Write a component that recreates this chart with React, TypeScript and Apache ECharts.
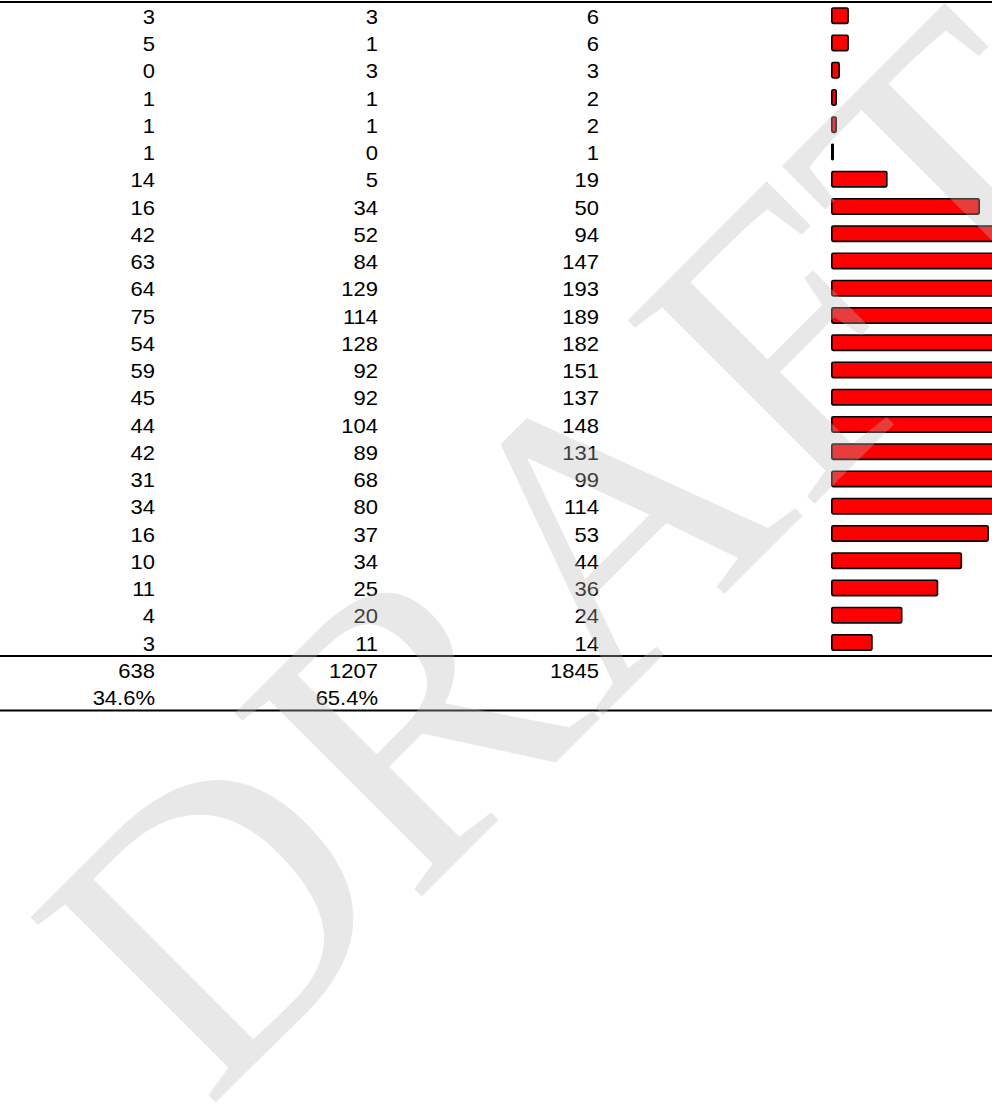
import React, { useEffect, useRef } from "react";
import * as echarts from "echarts";

// ---- data ----
const rowKeys = [
  "r1", "r2", "r3", "r4", "r5", "r6", "r7", "r8", "r9", "r10", "r11", "r12",
  "r13", "r14", "r15", "r16", "r17", "r18", "r19", "r20", "r21", "r22", "r23", "r24",
  "total", "share",
];
const colA = [3, 5, 0, 1, 1, 1, 14, 16, 42, 63, 64, 75, 54, 59, 45, 44, 42, 31, 34, 16, 10, 11, 4, 3];
const colB = [3, 1, 3, 1, 1, 0, 5, 34, 52, 84, 129, 114, 128, 92, 92, 104, 89, 68, 80, 37, 34, 25, 20, 11];
const colTotal = [6, 6, 3, 2, 2, 1, 19, 50, 94, 147, 193, 189, 182, 151, 137, 148, 131, 99, 114, 53, 44, 36, 24, 14];
const totalsRow = ["638", "1207", "1845"];
const shareRow = ["34.6%", "65.4%", ""];
const watermarkText = "DRAFT";

// ---- layout ----
const CHART_W = 1440;
const CHART_H = 1108;
const TABLE_TOP = 2;
const ROW_H = 27.25;
const TABLE_H = ROW_H * rowKeys.length;
const COL_RIGHT = [155, 378, 599];
const BAR_LEFT = 831;
const BAR_MAX = 200;
const BAR_GRID_W = 596;

function cellText(row: number, col: number): string {
  if (row < colA.length) {
    return String([colA, colB, colTotal][col][row]);
  }
  if (row === colA.length) return totalsRow[col];
  return shareRow[col];
}

export default function App() {
  const ref = useRef<HTMLDivElement>(null);
  useEffect(() => {
    if (!ref.current) return;
    const chart = echarts.init(ref.current, undefined, { renderer: "svg" });
    const numFont = '"Liberation Sans", Arial, Helvetica, sans-serif';

    const option: any = {
      animation: false,
      grid: [
        { left: 0, top: TABLE_TOP, width: CHART_W, height: TABLE_H },
        { left: BAR_LEFT, top: TABLE_TOP, width: BAR_GRID_W, height: TABLE_H },
      ],
      xAxis: [
        { gridIndex: 0, type: "value", min: 0, max: CHART_W, show: false },
        { gridIndex: 1, type: "value", min: 0, max: BAR_MAX, show: false },
      ],
      yAxis: [
        { gridIndex: 0, type: "category", data: rowKeys, inverse: true, show: false },
        { gridIndex: 1, type: "category", data: rowKeys, inverse: true, show: false },
      ],
      series: [
        {
          type: "custom",
          xAxisIndex: 0,
          yAxisIndex: 0,
          data: rowKeys.map((_, i) => [0, i]),
          encode: { x: 0, y: 1 },
          silent: true,
          renderItem: (params: any, api: any) => {
            const i = params.dataIndex;
            const children = COL_RIGHT.map((cx, k) => {
              const p = api.coord([cx, i]);
              return {
                type: "text",
                x: p[0],
                y: p[1] + 1,
                scaleX: 1.1,
                style: {
                  text: cellText(i, k),
                  fill: "#000",
                  fontSize: 20,
                  fontFamily: numFont,
                  align: "right",
                  verticalAlign: "middle",
                },
              };
            });
            return { type: "group", children };
          },
        },
        {
          type: "custom",
          xAxisIndex: 0,
          yAxisIndex: 0,
          data: [
            [0, 0, -1],
            [0, 23, 1],
            [0, 25, 1],
          ],
          encode: { x: 0, y: 1 },
          silent: true,
          renderItem: (params: any, api: any) => {
            const row = api.value(1);
            const side = api.value(2);
            const band = api.size([0, 1])[1];
            const y = api.coord([0, row])[1] + (side * band) / 2;
            return {
              type: "line",
              shape: { x1: 0, y1: y, x2: CHART_W, y2: y },
              style: { stroke: "#000", lineWidth: 2 },
            };
          },
        },
        {
          type: "bar",
          xAxisIndex: 1,
          yAxisIndex: 1,
          data: colTotal,
          barWidth: 17,
          silent: true,
          itemStyle: {
            color: "#ff0000",
            borderColor: "#000",
            borderWidth: 1.6,
            borderRadius: 1.5,
          },
        },
      ],
      graphic: [
        {
          type: "text",
          x: 576,
          y: 552,
          rotation: Math.PI / 4,
          z: 100,
          silent: true,
          style: {
            text: watermarkText,
            fill: "rgba(184,184,184,0.33)",
            fontSize: 400,
            fontFamily: '"Liberation Serif", "Times New Roman", serif',
            align: "center",
            verticalAlign: "middle",
            textAlign: "center",
            textVerticalAlign: "middle",
          },
        },
      ],
    };
    chart.setOption(option);
    return () => chart.dispose();
  }, []);

  return (
    <div
      style={{
        position: "absolute",
        left: 0,
        top: 0,
        width: 992,
        height: CHART_H,
        overflow: "hidden",
        background: "#fff",
      }}
    >
      <div ref={ref} style={{ width: CHART_W, height: CHART_H }} />
    </div>
  );
}
